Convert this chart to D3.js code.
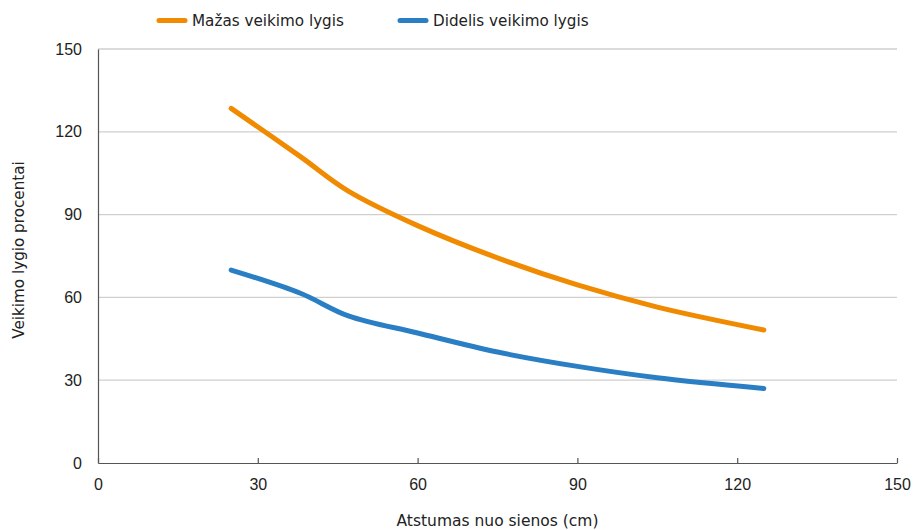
<!DOCTYPE html>
<html>
<head>
<meta charset="utf-8">
<script src="https://cdn.jsdelivr.net/npm/d3@7"></script>
<style>
  body { margin: 0; background: #fff; }
  svg text { font-family: "DejaVu Sans", sans-serif; fill: #222; }
</style>
</head>
<body>
<svg id="chart" width="915" height="530"></svg>
<script>
// Distance from the wall (cm)
const distance = [25, 38, 47, 60, 75, 90, 105, 125];
// Activity level percentages per series
const lowLevel = [128.5, 111, 98.5, 86, 74.3, 64.5, 56.5, 48.2];
const highLevel = [69.9, 61.5, 53.3, 47.1, 40.2, 35.0, 30.9, 27.0];
const seriesNames = ["Mažas veikimo lygis", "Didelis veikimo lygis"];
const seriesColors = ["#F08A00", "#2A7FC4"];
const xTicks = [0, 30, 60, 90, 120, 150];
const yTicks = [0, 30, 60, 90, 120, 150];
const xTitle = "Atstumas nuo sienos (cm)";
const yTitle = "Veikimo lygio procentai";

const svg = d3.select("#chart");
const margin = { left: 98, right: 18, top: 49, bottom: 67 };
const W = 915, H = 530;

const x = d3.scaleLinear().domain([0, 150]).range([margin.left, W - margin.right]);
const y = d3.scaleLinear().domain([0, 150]).range([H - margin.bottom, margin.top]);

// horizontal gridlines
svg.append("g")
  .selectAll("line")
  .data(yTicks.filter(d => d > 0))
  .join("line")
  .attr("x1", x(0)).attr("x2", x(150))
  .attr("y1", d => y(d)).attr("y2", d => y(d))
  .attr("stroke", "#cfcfcf").attr("stroke-width", 1.3);

// y axis
const yAxis = svg.append("g")
  .attr("transform", `translate(${x(0)},0)`)
  .call(d3.axisLeft(y).tickValues(yTicks).tickSize(0).tickPadding(16));
yAxis.select(".domain").attr("stroke", "#555").attr("stroke-width", 1.2);
yAxis.selectAll("text").attr("font-size", 16).style("font-family", "inherit");

// x axis with inward ticks
const xAxis = svg.append("g")
  .attr("transform", `translate(0,${y(0)})`)
  .call(d3.axisBottom(x).tickValues(xTicks).tickSizeInner(-5).tickSizeOuter(0).tickPadding(16));
xAxis.select(".domain").attr("stroke", "#555").attr("stroke-width", 1.2);
xAxis.selectAll(".tick line").attr("stroke", "#555").attr("stroke-width", 1.2);
xAxis.selectAll("text").attr("font-size", 16).style("font-family", "inherit");

// axis titles
svg.append("text")
  .attr("x", (x(0) + x(150)) / 2).attr("y", 526)
  .attr("text-anchor", "middle").attr("font-size", 15.5)
  .text(xTitle);
svg.append("text")
  .attr("transform", `translate(24,250) rotate(-90)`)
  .attr("text-anchor", "middle").attr("font-size", 15.2)
  .text(yTitle);

// series lines
const line = d3.line()
  .x((d, i) => x(distance[i]))
  .y(d => y(d))
  .curve(d3.curveCatmullRom.alpha(0.5));

[lowLevel, highLevel].forEach((vals, i) => {
  svg.append("path")
    .datum(vals)
    .attr("d", line)
    .attr("fill", "none")
    .attr("stroke", seriesColors[i])
    .attr("stroke-width", 5)
    .attr("stroke-linecap", "round")
    .attr("stroke-linejoin", "round");
});

// legend
const legendX = [159, 400];
const legend = svg.append("g");
seriesNames.forEach((name, i) => {
  legend.append("line")
    .attr("x1", legendX[i]).attr("x2", legendX[i] + 26)
    .attr("y1", 20.5).attr("y2", 20.5)
    .attr("stroke", seriesColors[i]).attr("stroke-width", 5)
    .attr("stroke-linecap", "round");
  legend.append("text")
    .attr("x", legendX[i] + 33).attr("y", 26)
    .attr("font-size", 15.2)
    .text(name);
});
</script>
</body>
</html>
